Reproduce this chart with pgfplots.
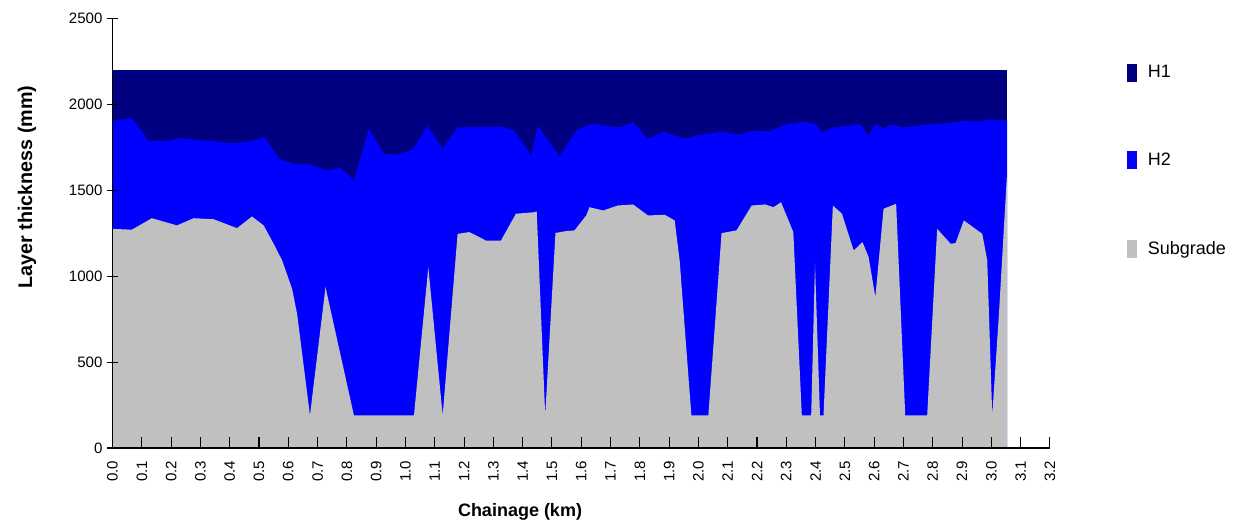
\documentclass[border=0pt]{standalone}
\usepackage{fontspec}
\setmainfont{Liberation Sans}
\usepackage{pgfplots}
\pgfplotsset{compat=1.18}
\definecolor{hone}{RGB}{0,0,128}
\definecolor{htwo}{RGB}{0,0,255}
\definecolor{subg}{RGB}{192,192,192}
\begin{document}
\begin{tikzpicture}
\useasboundingbox (-84.4pt,-59.25pt) rectangle (847.9pt,336pt);
\begin{axis}[
  at={(0pt,0pt)}, anchor=south west,
  scale only axis, width=703.1pt, height=322pt,
  xmin=0, xmax=3.2, ymin=0, ymax=2500,
  axis x line=bottom, axis y line=left,
  axis line style={-, line width=1pt, black},
  axis on top,
  xtick={0,0.1,0.2,0.3,0.4,0.5,0.6,0.7,0.8,0.9,1.0,1.1,1.2,1.3,1.4,1.5,1.6,1.7,1.8,1.9,2.0,2.1,2.2,2.3,2.4,2.5,2.6,2.7,2.8,2.9,3.0,3.1,3.2},
  ytick={0,500,1000,1500,2000,2500},
  xtick align=inside, ytick align=center,
  major tick length=8pt,
  every tick/.style={black, line width=0.8pt},
  /pgf/number format/assume math mode=true,
  /pgf/number format/1000 sep={},
  xticklabel style={/pgf/number format/.cd, fixed, fixed zerofill, precision=1, /tikz/.cd, rotate=90, anchor=east, font=\fontsize{11.3}{13}\selectfont, xshift=-6pt},
  yticklabel style={font=\fontsize{11.3}{13}\selectfont},
  xlabel={\textbf{Chainage (km)}},
  ylabel={\textbf{Layer thickness (mm)}},
  xlabel style={at={(axis description cs:0.4347,-0.148)}, anchor=center, font=\fontsize{13.5}{16}\selectfont},
  ylabel style={at={(axis description cs:-0.0912,0.608)}, anchor=center, font=\fontsize{14.8}{17}\selectfont},
  legend cell align=left,
  legend image code/.code={\fill[#1] (0pt,-6.75pt) rectangle (7.5pt,6.75pt);},
  legend style={draw=none, fill=none, at={(axis description cs:1.0821,0.898)}, anchor=north west,
    font=\fontsize{13.5}{16}\selectfont, row sep=51pt, inner sep=0pt,
    /tikz/every odd column/.append style={column sep=6pt}},
]
\addplot[fill=hone, draw=none] coordinates {(0,2200) (3.054,2200)} \closedcycle;
\addlegendentry{H1}
\addplot[fill=htwo, draw=none] coordinates {
(0.000,1905) (0.066,1920) (0.122,1790) (0.174,1785) (0.231,1805) (0.311,1790)
(0.413,1775) (0.470,1785) (0.518,1810) (0.573,1678) (0.619,1655) (0.676,1650)
(0.733,1615) (0.779,1632) (0.824,1558) (0.875,1858) (0.927,1712) (0.967,1708)
(1.024,1736) (1.075,1877) (1.127,1742) (1.178,1867) (1.332,1871) (1.372,1848)
(1.429,1703) (1.452,1877) (1.526,1697) (1.583,1848) (1.617,1877) (1.646,1887)
(1.680,1877) (1.731,1867) (1.777,1896) (1.828,1800) (1.880,1842) (1.953,1800)
(1.990,1819) (2.079,1842) (2.136,1825) (2.193,1848) (2.240,1842) (2.296,1883)
(2.353,1900) (2.400,1887) (2.421,1838) (2.461,1867) (2.518,1877) (2.550,1887)
(2.581,1819) (2.604,1887) (2.633,1858) (2.656,1883) (2.701,1867) (2.747,1877)
(2.804,1887) (2.861,1893) (2.906,1906) (2.952,1900) (2.997,1910) (3.054,1906)
} \closedcycle;
\addlegendentry{H2}
\addplot[fill=subg, draw=none] coordinates {
(0.000,1276) (0.066,1271) (0.134,1338) (0.220,1296) (0.277,1338) (0.345,1332)
(0.425,1280) (0.476,1348) (0.516,1296) (0.550,1189) (0.579,1092) (0.613,927)
(0.630,782) (0.674,190) (0.727,937) (0.824,190) (1.029,190) (1.078,1053)
(1.127,190) (1.178,1247) (1.218,1257) (1.275,1208) (1.326,1208) (1.377,1364)
(1.440,1373) (1.448,1378) (1.477,190) (1.512,1252) (1.545,1262) (1.577,1267)
(1.617,1354) (1.628,1402) (1.675,1383) (1.725,1412) (1.777,1418) (1.828,1354)
(1.885,1358) (1.919,1325) (1.936,1092) (1.976,190) (2.034,190) (2.079,1251)
(2.130,1267) (2.182,1412) (2.228,1418) (2.256,1402) (2.282,1431) (2.324,1257)
(2.353,190) (2.385,190) (2.398,1073) (2.415,190) (2.427,190) (2.459,1412)
(2.490,1364) (2.530,1150) (2.560,1199) (2.581,1112) (2.604,879) (2.632,1393)
(2.675,1422) (2.706,190) (2.781,190) (2.815,1276) (2.861,1189) (2.878,1193)
(2.906,1325) (2.969,1247) (2.986,1092) (3.003,190) (3.026,782) (3.054,1615)
} \closedcycle;
\addlegendentry{Subgrade}
\end{axis}
\end{tikzpicture}
\end{document}
